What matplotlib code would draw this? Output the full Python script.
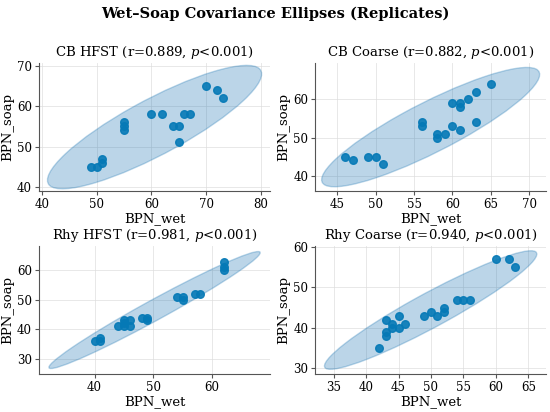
import numpy as np
import matplotlib
matplotlib.use("Agg")
import matplotlib.pyplot as plt
from matplotlib.patches import Ellipse
from matplotlib.ticker import MultipleLocator

plt.rcParams['font.family'] = 'DejaVu Serif'
plt.rcParams['mathtext.fontset'] = 'dejavuserif'

# panel titles
titles = ["CB HFST (r=0.889, $p$<0.001)",
          "CB Coarse (r=0.882, $p$<0.001)",
          "Rhy HFST (r=0.981, $p$<0.001)",
          "Rhy Coarse (r=0.940, $p$<0.001)"]

# replicate values
cb_hfst_wet = [49, 50, 51, 51, 55, 55, 55, 60, 62, 64, 65, 65, 66, 67, 70, 72, 73]
cb_hfst_soap = [45, 45, 46, 47, 54, 55, 56, 58, 58, 55, 55, 51, 58, 58, 65, 64, 62]

cb_coarse_wet = [46, 47, 49, 50, 51, 56, 56, 58, 58, 59, 60, 60, 61, 61, 61, 62, 63, 63, 65]
cb_coarse_soap = [45, 44, 45, 45, 43, 54, 53, 51, 50, 51, 59, 53, 59, 58, 52, 60, 62, 54, 64]

rhy_hfst_wet = [40, 41, 41, 44, 45, 45, 45, 46, 46, 48, 49, 49, 54, 55, 55, 57, 58, 62, 62, 62]
rhy_hfst_soap = [36, 36, 37, 41, 41, 42, 43, 41, 43, 44, 44, 43, 51, 51, 50, 52, 52, 60, 61, 63]

rhy_coarse_wet = [42, 43, 43, 43, 44, 44, 45, 45, 46, 49, 50, 51, 52, 52, 54, 55, 56, 60, 62, 63]
rhy_coarse_soap = [35, 42, 39, 38, 41, 40, 43, 40, 41, 43, 44, 43, 45, 44, 47, 47, 47, 57, 57, 55]

wet = [cb_hfst_wet, cb_coarse_wet, rhy_hfst_wet, rhy_coarse_wet]
soap = [cb_hfst_soap, cb_coarse_soap, rhy_hfst_soap, rhy_coarse_soap]
x_steps = [10, 5, 10, 5]

# 95% ellipse for 2 dof
n_std = np.sqrt(-2 * np.log(0.05))


def cov_ellipse(ax, x, y):
    x = np.asarray(x, float)
    y = np.asarray(y, float)
    cov = np.cov(x, y)
    vals, vecs = np.linalg.eigh(cov)
    order = vals.argsort()[::-1]
    vals, vecs = vals[order], vecs[:, order]
    angle = np.degrees(np.arctan2(vecs[1, 0], vecs[0, 0]))
    w, h = 2 * n_std * np.sqrt(vals)
    e = Ellipse((x.mean(), y.mean()), w, h, angle=angle,
                facecolor='#1f77b4', alpha=0.3, edgecolor='#1f77b4', lw=1)
    ax.add_patch(e)


fig = plt.figure(figsize=(5.5, 4.12), dpi=100)
lefts = [0.071, 0.573, 0.071, 0.573]
bottoms = [0.536, 0.536, 0.092, 0.092]
for i in range(4):
    ax = fig.add_axes([lefts[i], bottoms[i], 0.42, 0.311])
    cov_ellipse(ax, wet[i], soap[i])
    ax.scatter(wet[i], soap[i], s=30, color='#0579b6', alpha=0.9, zorder=3)
    ax.autoscale_view()
    ax.xaxis.set_major_locator(MultipleLocator(x_steps[i]))
    ax.yaxis.set_major_locator(MultipleLocator(10))
    ax.set_title(titles[i], fontsize=9.5, pad=5)
    ax.set_xlabel('BPN_wet', fontsize=9.5, labelpad=1)
    ax.set_ylabel('BPN_soap', fontsize=9.5, labelpad=2)
    ax.tick_params(labelsize=8.5, length=3, pad=2, color='#555555')
    ax.grid(True, color='#dddddd', lw=0.6, alpha=0.8)
    ax.set_axisbelow(True)
    for s in ['top', 'right']:
        ax.spines[s].set_visible(False)
    for s in ['left', 'bottom']:
        ax.spines[s].set_color('#555555')

fig.suptitle('Wet–Soap Covariance Ellipses (Replicates)', fontsize=10.5,
             fontweight='bold', y=0.985)
fig.savefig('out.png', dpi=100)
